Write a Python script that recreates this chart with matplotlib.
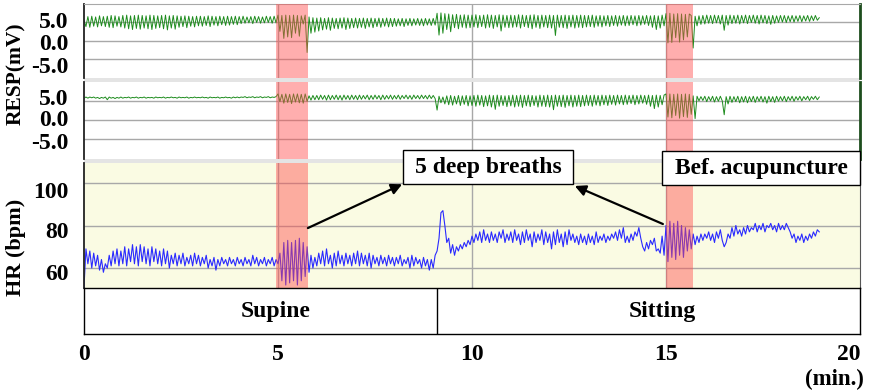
import numpy as np
import matplotlib
matplotlib.use("Agg")
import matplotlib.pyplot as plt
from matplotlib.patches import Rectangle

plt.rcParams['font.family'] = ['Liberation Serif', 'DejaVu Serif']
plt.rcParams['font.weight'] = 'bold'

# sampling step of the traces (min.)
step = 0.05

# respiration, upper channel (mV), one row per minute
resp_top = [
    5.5, 3.8, 6.5, 3.6, 6.6, 3.9, 6.4, 3.7, 6.7, 4.0, 6.5, 3.8, 6.6, 3.6, 6.8, 3.5, 6.7, 3.9, 6.5, 3.7,
    6.8, 3.4, 6.9, 3.2, 6.7, 3.0, 6.8, 3.3, 6.9, 3.1, 6.8, 3.4, 6.7, 3.2, 6.9, 3.0, 6.8, 3.3, 6.7, 3.5,
    6.8, 3.2, 6.9, 2.9, 6.7, 3.4, 6.8, 3.1, 6.7, 3.6, 6.6, 3.8, 6.7, 3.5, 6.6, 3.9, 6.5, 3.7, 6.6, 4.0,
    6.6, 3.9, 6.5, 4.1, 6.7, 3.8, 6.6, 4.2, 6.5, 4.0, 6.6, 4.3, 6.5, 4.1, 6.6, 4.2, 6.5, 4.4, 6.6, 4.3,
    6.5, 4.6, 6.6, 4.7, 6.4, 4.8, 6.5, 4.6, 6.6, 4.9, 6.5, 4.7, 6.4, 4.8, 6.6, 4.9, 6.5, 4.7, 6.6, 4.8,
    6.9, 2.5, 6.8, 0.6, 6.9, 1.0, 6.8, 0.8, 6.9, 2.0, 6.8, 1.2, 6.7, 4.5, 6.9, -3.2, 6.4, 2.0, 6.2, 2.3,
    6.1, 2.6, 6.2, 2.9, 6.0, 3.1, 6.2, 2.8, 6.1, 3.3, 6.0, 3.2, 6.1, 3.4, 6.2, 3.0, 6.1, 3.3, 6.0, 3.5,
    6.1, 3.4, 6.0, 3.6, 6.1, 3.3, 6.0, 3.7, 6.1, 3.5, 6.0, 3.8, 6.1, 3.6, 6.0, 3.9, 6.1, 3.7, 6.0, 3.8,
    6.0, 3.9, 5.9, 4.0, 6.0, 3.8, 5.9, 4.1, 6.0, 4.0, 5.9, 4.2, 6.0, 4.1, 5.9, 4.0, 6.0, 4.2, 5.9, 4.1,
    6.0, 4.2, 7.4, 1.5, 7.5, 2.0, 7.3, 3.0, 7.2, 2.4, 7.0, 3.5, 7.1, 3.2, 6.9, 3.6, 7.0, 3.4, 6.9, 3.5,
    6.9, 3.7, 7.0, 3.5, 6.8, 3.8, 6.9, 3.4, 7.0, 3.6, 6.9, 3.3, 6.8, 3.7, 7.0, 2.6, 6.9, 3.6, 6.8, 3.5,
    6.9, 3.6, 6.8, 3.7, 7.0, 3.4, 6.9, 3.8, 6.8, 3.5, 6.9, 3.2, 7.0, 3.6, 6.8, 3.3, 6.9, 3.7, 6.8, 3.5,
    6.9, 3.4, 6.8, 1.4, 6.9, 3.6, 6.8, 3.5, 6.9, 3.3, 6.8, 3.7, 6.9, 3.4, 6.8, 3.6, 6.9, 3.5, 6.8, 3.7,
    6.8, 3.8, 6.9, 3.6, 6.7, 3.9, 6.8, 3.7, 6.7, 4.0, 6.8, 3.8, 6.7, 4.1, 6.8, 3.9, 6.7, 4.2, 6.8, 4.0,
    6.7, 4.1, 6.8, 4.3, 6.7, 4.0, 6.8, 4.2, 6.7, 4.4, 6.8, 4.1, 6.7, 3.6, 6.8, 3.0, 6.7, 3.4, 6.9, 4.0,
    7.3, -0.6, 7.4, -0.5, 7.2, 0.8, 7.3, -0.4, 7.2, 0.2, 7.1, 1.0, 7.2, 6.8, -2.0, 6.6, 4.0, 6.7, 4.4, 6.8,
    4.5, 6.9, 4.7, 6.8, 4.6, 6.9, 4.8, 6.8, 4.5, 6.9, 2.8, 6.8, 4.2, 6.9, 4.6, 6.8, 4.7, 6.9, 4.5, 6.8,
    4.8, 6.9, 4.6, 6.8, 4.9, 6.9, 4.7, 6.8, 4.5, 6.9, 4.8, 6.8, 4.6, 6.7, 4.4, 6.8, 4.7, 6.7, 4.9, 6.8,
    5.0, 6.8, 4.9, 6.7, 5.1, 6.8, 5.0, 6.7, 5.2, 6.8, 5.1, 6.7, 5.3, 6.8, 5.2, 6.7, 5.4, 6.8, 5.5, 6.2,
]

# respiration, lower channel (mV)
resp_bot = [
    5.7, 6.0, 5.7, 6.0, 5.8, 6.0, 5.7, 5.9, 5.6, 5.9, 5.7, 6.0, 5.3, 6.0, 5.7, 5.9, 5.6, 5.9, 5.7, 6.0,
    5.7, 5.9, 5.8, 6.0, 5.7, 5.9, 5.8, 6.0, 5.7, 5.9, 5.8, 6.0, 5.7, 5.9, 5.8, 5.9, 5.7, 6.0, 5.8, 5.9,
    5.8, 6.0, 5.7, 5.9, 5.8, 6.0, 5.8, 5.9, 5.7, 6.0, 5.8, 5.9, 5.8, 6.0, 5.7, 5.9, 5.8, 6.0, 5.8, 5.9,
    5.8, 6.0, 5.8, 5.9, 5.7, 6.0, 5.8, 5.9, 5.8, 6.0, 5.7, 5.9, 5.8, 6.0, 5.8, 5.9, 5.7, 6.0, 5.8, 6.0,
    5.8, 6.0, 5.9, 6.1, 5.8, 6.0, 5.9, 6.1, 5.8, 6.0, 5.9, 6.1, 5.8, 6.0, 5.9, 6.1, 5.8, 6.0, 5.9, 6.1,
    6.8, 4.8, 6.7, 4.4, 6.8, 4.6, 6.7, 4.3, 6.8, 4.7, 6.8, 4.5, 6.7, 4.4, 6.8, 4.9, 6.3, 5.2, 6.4, 5.3,
    6.4, 5.3, 6.5, 5.4, 6.4, 5.2, 6.5, 5.3, 6.4, 5.4, 6.5, 5.3, 6.4, 5.2, 6.5, 5.4, 6.4, 5.3, 6.5, 5.4,
    6.4, 5.3, 6.5, 5.4, 6.4, 5.5, 6.5, 5.3, 6.4, 5.4, 6.5, 5.5, 6.4, 5.3, 6.5, 5.4, 6.4, 5.5, 6.5, 5.4,
    6.4, 5.5, 6.5, 5.4, 6.4, 5.6, 6.5, 5.5, 6.4, 5.4, 6.5, 5.6, 6.4, 5.5, 6.5, 5.6, 6.4, 5.5, 6.5, 5.6,
    6.4, 5.6, 2.6, 6.2, 4.5, 6.0, 4.2, 6.3, 4.0, 6.4, 3.9, 6.2, 4.2, 6.4, 3.8, 6.3, 4.1, 6.4, 3.7, 6.3,
    3.8, 6.4, 3.6, 6.5, 3.9, 6.4, 3.5, 6.3, 3.7, 6.5, 3.4, 6.4, 2.8, 6.5, 3.6, 6.4, 3.8, 6.3, 3.5, 6.4,
    3.7, 6.5, 3.4, 6.4, 3.6, 6.5, 3.3, 6.4, 3.7, 6.5, 3.5, 6.4, 3.8, 6.3, 3.4, 6.5, 3.6, 6.4, 3.5, 6.5,
    3.4, 6.4, 2.7, 6.5, 3.6, 6.4, 3.5, 6.5, 3.3, 6.4, 3.7, 6.5, 3.4, 6.4, 3.6, 6.5, 3.5, 6.4, 3.7, 6.5,
    3.8, 6.4, 3.6, 6.5, 3.9, 6.4, 3.7, 6.5, 4.0, 6.4, 3.8, 6.5, 4.1, 6.4, 3.9, 6.5, 4.2, 6.4, 4.0, 6.5,
    4.1, 6.4, 4.3, 6.5, 4.0, 6.4, 4.2, 6.5, 4.4, 6.4, 4.1, 6.5, 3.6, 6.4, 3.0, 6.5, 3.4, 6.4, 4.0, 6.5,
    6.8, 0.8, 6.8, 0.6, 6.7, 1.2, 6.8, 0.5, 6.7, 0.9, 6.8, 0.7, 6.7, 1.5, 6.3, 0.4, 6.2, 5.0, 6.1, 5.1,
    6.2, 4.8, 6.1, 5.0, 6.2, 4.7, 6.1, 4.9, 6.2, 5.0, 1.4, 6.1, 4.2, 6.2, 4.6, 6.1, 4.8, 6.2, 4.5, 6.1,
    4.7, 6.2, 4.5, 6.1, 4.8, 6.2, 4.6, 6.1, 4.9, 6.2, 4.7, 6.1, 4.4, 6.2, 4.8, 6.1, 4.6, 6.2, 4.9, 6.1,
    5.0, 6.2, 4.8, 6.1, 5.1, 6.2, 4.9, 6.1, 5.2, 6.2, 5.0, 6.1, 5.3, 6.2, 5.1, 6.1, 5.4, 6.2, 5.3, 6.0,
]

# heart rate (bpm)
hr = [
    51, 69, 62, 68, 60, 67, 61, 66, 59, 64, 58, 62, 60, 66, 61, 68, 62, 69, 61, 68,
    62, 70, 61, 69, 63, 71, 62, 70, 61, 71, 63, 70, 62, 69, 61, 70, 63, 69, 62, 68,
    61, 69, 62, 68, 60, 66, 62, 67, 61, 66, 62, 67, 61, 65, 62, 66, 61, 67, 62, 66,
    61, 65, 62, 66, 60, 64, 61, 65, 59, 64, 61, 65, 62, 64, 61, 65, 62, 64, 61, 65,
    62, 64, 61, 65, 62, 64, 61, 66, 62, 65, 61, 64, 62, 65, 61, 64, 62, 65, 61, 64,
    62, 67, 54, 72, 52, 73, 53, 72, 54, 73, 52, 74, 54, 72, 56, 70, 58, 66, 60, 65,
    61, 67, 62, 68, 61, 69, 62, 66, 60, 67, 61, 68, 62, 66, 61, 67, 62, 66, 61, 67,
    62, 68, 61, 67, 62, 66, 61, 67, 60, 66, 62, 65, 61, 66, 62, 65, 61, 66, 62, 65,
    61, 65, 62, 66, 61, 64, 62, 65, 60, 66, 61, 65, 62, 64, 60, 65, 61, 64, 59, 64,
    60, 66, 68, 74, 86, 87, 80, 72, 74, 67, 71, 66, 70, 68, 71, 69, 72, 70, 73, 71,
    75, 72, 76, 73, 77, 72, 78, 73, 76, 72, 77, 73, 76, 72, 77, 74, 78, 72, 76, 73,
    77, 72, 78, 73, 76, 71, 77, 72, 78, 73, 76, 70, 77, 72, 76, 73, 78, 71, 77, 72,
    76, 69, 77, 71, 78, 72, 76, 70, 77, 71, 78, 73, 76, 72, 75, 71, 76, 72, 75, 71,
    76, 72, 75, 71, 77, 72, 75, 73, 76, 72, 75, 73, 76, 74, 77, 73, 78, 74, 79, 72,
    75, 72, 76, 73, 77, 75, 79, 74, 70, 68, 72, 69, 73, 71, 74, 68, 69, 67, 75, 66,
    80, 63, 82, 65, 81, 64, 82, 66, 80, 65, 79, 68, 78, 69, 76, 71, 75, 72, 76, 73,
    76, 74, 77, 73, 76, 72, 77, 74, 78, 73, 70, 72, 76, 74, 79, 75, 80, 76, 78, 75,
    79, 76, 80, 77, 79, 78, 81, 77, 80, 78, 81, 77, 80, 79, 81, 78, 80, 77, 81, 78,
    80, 78, 81, 79, 77, 74, 76, 72, 75, 73, 76, 72, 75, 73, 76, 74, 77, 75, 78, 77,
]

bands = [(4.95, 5.77), (15.0, 15.7)]      # "5 deep breaths" periods (min.)
phases = ['Supine', 'Sitting']
phase_edges = [0, 9.1, 20]
phase_label_x = [4.95, 14.9]
resp_grid = [5, 0, -5]
resp_labels = ['5.0', '0.0', '-5.0']
hr_grid = [60, 80, 100]
hr_labels = ['60', '80', '100']
x_ticks = [0, 5, 10, 15, 20]

# where the tick labels sit (the original chart prints them a bit off the grid lines)
resp_top_label_pos = [5.5, -0.4, -6.6]
resp_bot_label_pos = [6.0, 0.6, -5.5]
hr_label_pos = [58.1, 77.9, 96.7]

t = np.arange(len(hr)) * step

W, H = 869, 391
fig = plt.figure(figsize=(W / 100, H / 100), dpi=100)

def box(top, bottom):
    return [84 / W, 1 - bottom / H, 776 / W, (bottom - top) / H]

ax1 = fig.add_axes(box(4, 78))
ax2 = fig.add_axes(box(82, 159))
ax3 = fig.add_axes(box(163, 288))
ax4 = fig.add_axes(box(288, 334))

# light grey separators between panels
for y0, y1 in [(78, 82), (159, 163)]:
    fig.add_artist(Rectangle((84 / W, 1 - y1 / H), 776 / W, (y1 - y0) / H,
                             transform=fig.transFigure, color='#e4e4e4', lw=0, zorder=-1))

grid_c = '#a8a8a8'
fs = 17

def setup(ax, grid_vals, label_pos, labels):
    ax.set_xlim(0, 20)
    ax.set_xticks([5, 10, 15])
    ax.set_yticks(grid_vals)
    ax.set_yticklabels([])
    ax.set_yticks(label_pos, minor=True)
    ax.set_yticklabels(labels, minor=True)
    ax.tick_params(axis='x', length=0, labelbottom=False)
    ax.tick_params(axis='y', which='both', length=0, labelsize=fs, pad=11)
    ax.grid(True, which='major', color=grid_c, lw=1)
    ax.set_axisbelow(True)
    ax.spines['left'].set_color('#222222')
    ax.spines['left'].set_linewidth(1.3)
    ax.spines['bottom'].set_visible(False)
    ax.spines['top'].set_color(grid_c)
    for a, b in bands:
        ax.axvspan(a, b, color='#ff4d4d', alpha=0.45, lw=0, zorder=3)

for ax, y, pos in [(ax1, resp_top, resp_top_label_pos), (ax2, resp_bot, resp_bot_label_pos)]:
    ax.plot(t, y, color='#1e8c1e', lw=0.7, zorder=2)
    ax.set_ylim(-10.1, 9.9)
    setup(ax, resp_grid, pos, resp_labels)
    ax.spines['right'].set_color('#1d4d1d')
    ax.spines['right'].set_linewidth(2)
ax2.spines['top'].set_visible(False)

ax3.set_facecolor('#fafbe3')
ax3.plot(t, hr, color='#2a2aff', lw=0.8, zorder=2)
ax3.set_ylim(50.6, 109.4)
setup(ax3, hr_grid, hr_label_pos, hr_labels)
ax3.spines['top'].set_visible(False)
ax3.spines['right'].set_color('#555555')

# phase bar
ax4.set_xlim(0, 20)
ax4.set_ylim(0, 1)
ax4.set_yticks([])
ax4.set_xticks(x_ticks, labels=[str(v) for v in x_ticks])
ax4.get_xticklabels()[-1].set_horizontalalignment('right')
ax4.tick_params(axis='x', length=0, labelsize=fs, pad=7)
for s in ax4.spines.values():
    s.set_color('black')
    s.set_linewidth(1)
for e in phase_edges[1:-1]:
    ax4.axvline(e, color='black', lw=1)
for name, xc in zip(phases, phase_label_x):
    ax4.text(xc, 0.5, name, ha='center', va='center', fontsize=fs)

# annotation boxes and arrows
box_kw = dict(facecolor='white', edgecolor='black', lw=1, clip_on=False, zorder=10)
ax3.add_patch(Rectangle((8.22, 99.5), 4.38, 16.0, **box_kw))
ax3.text(10.41, 107.2, '5 deep breaths', ha='center', va='center', fontsize=fs, zorder=11, clip_on=False)
ax3.add_patch(Rectangle((14.9, 99.1), 5.1, 16.0, **box_kw))
ax3.text(17.45, 106.9, 'Bef. acupuncture', ha='center', va='center', fontsize=fs, zorder=11, clip_on=False)

arrow = dict(arrowstyle='-|>', color='black', lw=1.6, mutation_scale=16, shrinkA=0, shrinkB=0)
ax3.annotate('', xy=(8.2, 99.4), xytext=(5.77, 78.8), arrowprops=arrow, zorder=12, annotation_clip=False)
ax3.annotate('', xy=(12.65, 98.6), xytext=(14.92, 80.7), arrowprops=arrow, zorder=12, annotation_clip=False)

fig.text(16 / W, 1 - 74 / H, 'RESP(mV)', rotation=90, ha='center', va='center', fontsize=15.5)
fig.text(16 / W, 1 - 247 / H, 'HR (bpm)', rotation=90, ha='center', va='center', fontsize=16)
fig.text(864 / W, 1 - 379 / H, '(min.)', ha='right', va='center', fontsize=16.5)

fig.savefig('out.png', dpi=100)
